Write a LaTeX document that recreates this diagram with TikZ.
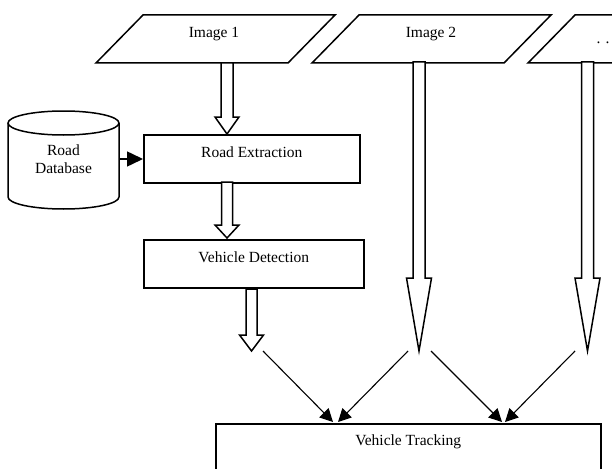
\documentclass[tikz,border=0pt]{standalone}
\usepackage{fontspec}
\setmainfont{Liberation Serif}
\usepackage{tikz}
\usetikzlibrary{arrows.meta}

\newcommand{\labfont}{\fontsize{15.5pt}{18.6pt}\selectfont}
% hollow block arrow: x, top, head start, tip, shaft half width, head half width
\newcommand{\hollowarrow}[6]{%
  \draw[blockline] (#1-#5,#2) -- (#1-#5,#3) -- (#1-#6,#3) -- (#1,#4)
    -- (#1+#6,#3) -- (#1+#5,#3) -- (#1+#5,#2) -- cycle;}

\tikzset{
  procbox/.style={draw, rectangle, line width=1.5pt, anchor=north west,
    text height=11pt, text depth=13pt, inner ysep=12pt, font=\labfont},
  blockline/.style={line width=1.5pt, fill=white, line join=miter},
  flowline/.style={line width=1.1pt, -{Triangle[length=13pt, width=13pt]}},
}

\begin{document}
\begin{tikzpicture}[x=1pt, y=-1pt]
    \useasboundingbox (0,0) rectangle (612,468);
    \clip (0,0) rectangle (612,468);

    % input images
    \foreach \i in {0,1,2}
        \draw [line width=1.5pt] (143+216*\i,15) -- (335+216*\i,15) -- (288+216*\i,63) -- (96+216*\i,63) -- cycle;
    \node (img1) [anchor=base, font=\labfont] at (214,37.5) {Image 1};
    \node (img2) [anchor=base, font=\labfont] at (431,37.5) {Image 2};
    \node (dots) [anchor=base, font=\labfont] at (603,43.5) {. .};

    % road database
    \draw [line width=1.5pt] (8,123) -- (8,197) arc [start angle=180, end angle=0, x radius=55.5, y radius=12] -- (119,123);
    \draw [line width=1.5pt] (63.5,123) ellipse [x radius=55.5, y radius=12];
    \node (db) [align=center, font=\labfont, minimum width=111pt, minimum height=70pt] at (63.5,159) {Road\\Database};

    % processing steps
    \node (roadex) [procbox, minimum width=216pt] at (143,134) {Road Extraction};
    \node (detect) [procbox, minimum width=220pt] at (143,239) {Vehicle Detection};
    \node (track) [procbox, minimum width=385pt, text depth=30pt, inner ysep=11pt] at (215,423) {Vehicle Tracking};

    \draw [line width=1.5pt, -{Triangle[length=16pt, width=15pt]}] (db.east) -- (roadex.west |- db.east);

    % block arrows
    \hollowarrow{227}{63}{117}{134}{6}{12}
    \hollowarrow{227}{182}{225}{238}{5.5}{12}
    \hollowarrow{251.5}{289}{335}{351}{5.5}{12}
    \foreach \x in {419,587.5} {
        \hollowarrow{\x}{62}{278}{351}{6}{12.5}
    }

    % into tracking
    \coordinate (detout) at (263,351);
    \coordinate (imgAl) at (408,351);
    \coordinate (imgAr) at (431,351);
    \coordinate (imgB) at (575,351);
    \coordinate (trkA) at (333,422);
    \coordinate (trkB) at (338,422);
    \coordinate (trkC) at (502,422);
    \coordinate (trkD) at (505,422);
    \draw [flowline] (detout) -- (trkA);
    \draw [flowline] (imgAl) -- (trkB);
    \draw [flowline] (imgAr) -- (trkC);
    \draw [flowline] (imgB) -- (trkD);
\end{tikzpicture}
\end{document}
